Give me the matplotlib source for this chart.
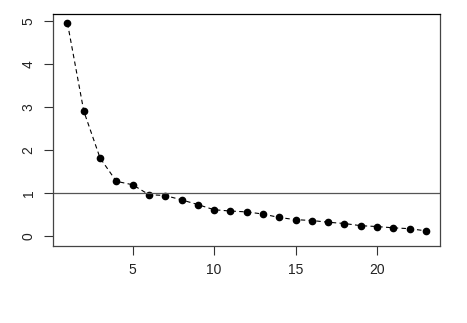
import matplotlib
matplotlib.use('Agg')
import matplotlib.pyplot as plt

# eigenvalues
comp = list(range(1, 24))
eigen = [4.94, 2.90, 1.81, 1.27, 1.19, 0.96, 0.94, 0.84, 0.73, 0.61, 0.58, 0.56,
         0.51, 0.43, 0.38, 0.36, 0.32, 0.29, 0.24, 0.22, 0.19, 0.17, 0.12]
xticks = [5, 10, 15, 20]
yticks = [0, 1, 2, 3, 4, 5]

plt.rcParams['font.family'] = ['Liberation Sans', 'DejaVu Sans']

fig = plt.figure(figsize=(4.67, 3.23), dpi=100)
ax = fig.add_axes([53/467, 1-245.7/323, (440-53)/467, (245.7-14)/323])

ax.plot(comp, eigen, color='black', linestyle=(0, (4, 3)), linewidth=0.8)
ax.plot(comp, eigen, 'o', color='black', markersize=4.5)
ax.axhline(1, color='#555555', linewidth=0.9)

ax.set_xlim(0.11, 23.87)
ax.set_ylim(-0.225, 5.155)
ax.set_xticks(xticks)
ax.set_yticks(yticks)
ax.tick_params(direction='out', length=6.5, width=0.8, color='#333333',
               labelsize=10, labelcolor='#222222', pad=6)
for lab in ax.get_yticklabels():
    lab.set_rotation(90)
    lab.set_va('center')
for s in ax.spines.values():
    s.set_color('#444444')
    s.set_linewidth(0.9)
ax.spines['top'].set_color('black')

plt.savefig('out.png', dpi=100)
plt.close()
